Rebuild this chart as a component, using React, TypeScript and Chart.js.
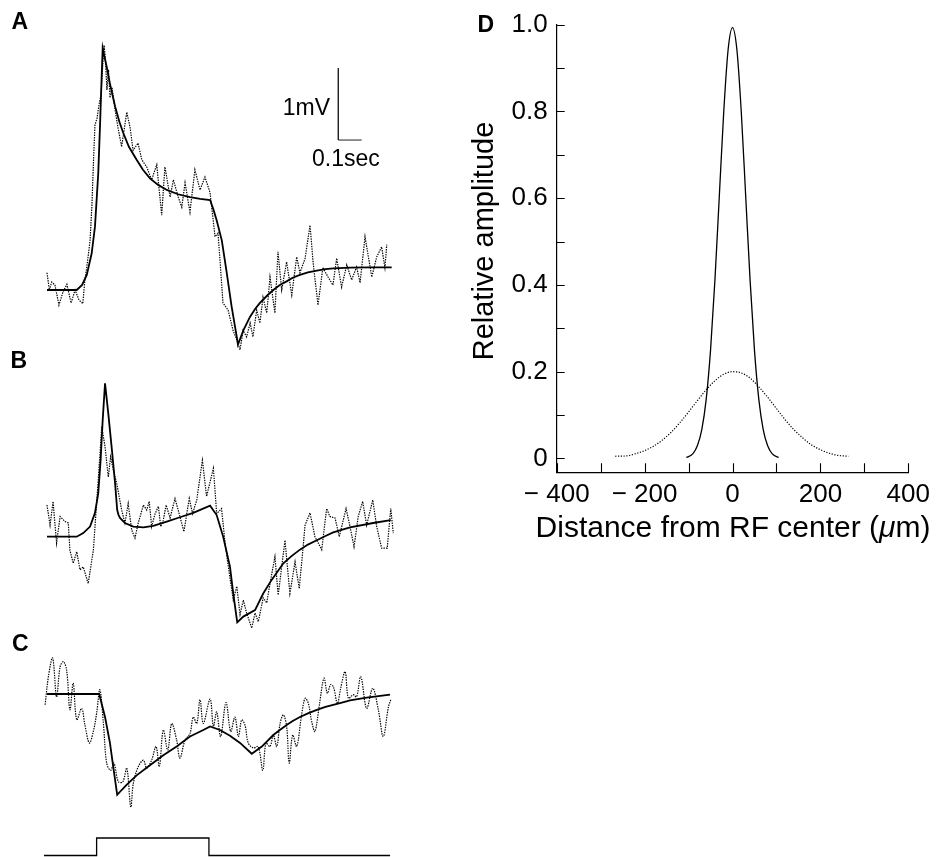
import React, { useEffect, useRef } from "react";
import { Chart, registerables } from "chart.js";

Chart.register(...registerables);

const FONT = "'Liberation Sans', Arial, Helvetica, sans-serif";

// ---------- Panels A-C: time (ms) vs membrane potential (mV, relative to baseline) ----------
const FIT_A_T = [0, 127, 150, 170, 191, 205, 219, 227, 234, 238, 245, 255, 270, 291, 310, 326, 350, 383, 410, 440, 475, 512, 560, 611, 655, 697, 711, 725, 747, 768, 789, 811, 816, 839, 868, 890, 910, 940, 967, 995, 1024, 1050, 1081, 1115, 1153, 1190, 1224, 1295, 1380, 1473];
const FIT_A_V = [0, 0, 0.07, 0.21, 0.51, 0.88, 1.62, 2.32, 3.01, 3.36, 3.25, 3.1, 2.85, 2.55, 2.33, 2.18, 1.99, 1.81, 1.67, 1.55, 1.46, 1.39, 1.33, 1.29, 1.265, 1.25, 1.12, 0.97, 0.69, 0.24, -0.23, -0.65, -0.76, -0.56, -0.37, -0.26, -0.18, -0.08, 0, 0.07, 0.12, 0.17, 0.21, 0.245, 0.27, 0.29, 0.3, 0.31, 0.315, 0.315];
const RAW_A_T = [0, 10, 20, 34, 51, 68, 85, 103, 120, 137, 153, 162, 173, 184, 192, 199, 205, 214, 222, 231, 237, 244, 250, 256, 263, 269, 278, 291, 303, 319, 341, 355, 368, 389, 405, 426, 447, 469, 490, 504, 526, 540, 561, 576, 590, 611, 632, 654, 675, 697, 718, 731, 752, 774, 795, 811, 825, 838, 853, 868, 880, 896, 910, 923, 939, 953, 974, 987, 1003, 1024, 1046, 1067, 1081, 1103, 1124, 1137, 1158, 1179, 1201, 1222, 1238, 1259, 1281, 1302, 1323, 1338, 1359, 1388, 1409, 1430, 1444, 1452];
const RAW_A_V = [0.24, 0, 0.11, 0.07, -0.21, -0.03, 0.08, -0.18, 0, -0.14, -0.19, 0.14, 0.39, 0.69, 1.18, 1.81, 2.29, 2.39, 2.57, 2.71, 3.06, 3.4, 3.19, 2.78, 3.06, 2.67, 2.81, 2.5, 2.26, 1.99, 2.47, 2.26, 1.94, 2.04, 1.81, 1.71, 1.53, 1.74, 1.04, 1.71, 1.29, 1.53, 1.29, 1.15, 1.49, 1.08, 1.67, 1.39, 1.57, 1.35, 0.74, 0.79, -0.18, -0.28, -0.56, -0.69, -0.83, -0.56, -0.65, -0.46, -0.65, -0.28, -0.46, -0.1, -0.32, 0.18, -0.32, 0.53, 0, 0.39, -0.07, 0.46, 0.24, 0.44, 0.9, 0.39, -0.21, 0.31, 0.18, 0.07, 0.44, 0.04, 0.35, 0.14, 0.32, 0.1, 0.74, 0.18, 0.46, 0.6, 0.31, 0.63];

const FIT_B_T = [0, 127, 155, 184, 205, 219, 229, 238, 248, 262, 276, 291, 300, 306, 312, 333, 369, 412, 454, 512, 568, 625, 697, 725, 753, 782, 796, 813, 839, 889, 924, 960, 1010, 1045, 1081, 1115, 1153, 1190, 1223, 1295, 1394, 1469];
const FIT_B_V = [0, 0, 0.05, 0.14, 0.33, 0.6, 1.06, 1.62, 2.13, 1.71, 1.25, 0.74, 0.37, 0.3, 0.26, 0.19, 0.14, 0.13, 0.15, 0.21, 0.27, 0.33, 0.43, 0.3, 0, -0.42, -0.79, -1.19, -1.11, -1.02, -0.79, -0.6, -0.37, -0.27, -0.18, -0.11, -0.05, 0.01, 0.06, 0.13, 0.19, 0.23];
const RAW_B_T = [0, 13, 26, 41, 56, 77, 91, 98, 112, 127, 141, 155, 176, 198, 219, 234, 248, 262, 272, 283, 298, 319, 333, 347, 362, 376, 390, 412, 426, 437, 447, 462, 476, 486, 497, 509, 526, 547, 568, 585, 608, 622, 640, 664, 682, 711, 725, 746, 761, 775, 796, 811, 825, 839, 853, 875, 889, 903, 924, 939, 953, 974, 988, 1017, 1038, 1060, 1078, 1103, 1124, 1145, 1174, 1195, 1209, 1231, 1249, 1278, 1295, 1312, 1330, 1349, 1366, 1392, 1409, 1430, 1454, 1469, 1480];
const RAW_B_V = [0.44, 0.16, 0.49, -0.09, 0.28, 0.21, 0.19, -0.19, -0.37, -0.21, -0.46, -0.42, -0.65, -0.19, 0.79, 1.53, 1.25, 0.83, 1.11, 0.93, 0.74, 0.37, 0.19, 0.46, 0.09, -0.02, 0.19, 0.44, 0.37, 0.49, 0.14, 0.32, 0.42, 0.14, 0.23, 0.44, 0.26, 0.53, 0.28, 0.07, 0.53, 0.32, 0.51, 1.06, 0.56, 0.95, 0.32, 0.39, -0.09, -0.42, -0.88, -0.69, -1.08, -0.88, -1.06, -1.27, -1.06, -1.18, -0.85, -0.92, -0.65, -0.28, -0.81, -0.05, -0.79, -0.35, -0.72, 0.16, 0.33, 0, -0.18, 0.39, 0.28, 0.26, 0, 0.39, 0.14, -0.14, 0.28, 0.49, 0.16, 0.51, 0.14, -0.16, -0.16, 0.39, 0.05];

const FIT_C_T = [0, 223, 248, 269, 283, 300, 320, 341, 383, 440, 497, 554, 611, 668, 697, 739, 782, 825, 875, 918, 967, 995, 1024, 1050, 1081, 1115, 1153, 1190, 1223, 1260, 1295, 1366, 1466];
const FIT_C_V = [0, 0, -0.32, -0.68, -1.01, -1.4, -1.33, -1.26, -1.13, -0.99, -0.85, -0.73, -0.59, -0.5, -0.45, -0.5, -0.58, -0.68, -0.83, -0.73, -0.57, -0.5, -0.43, -0.375, -0.32, -0.27, -0.22, -0.18, -0.15, -0.12, -0.09, -0.05, -0.01];
const RAW_C_T = [-8, 6, 24, 41, 56, 70, 84, 98, 112, 127, 148, 162, 181, 198, 212, 226, 241, 255, 272, 286, 305, 324, 341, 358, 369, 390, 412, 426, 447, 466, 480, 497, 516, 533, 554, 568, 590, 611, 625, 640, 654, 668, 697, 711, 725, 742, 765, 785, 803, 818, 832, 846, 860, 882, 903, 922, 936, 953, 967, 982, 996, 1010, 1024, 1035, 1050, 1067, 1088, 1103, 1117, 1131, 1145, 1164, 1184, 1198, 1212, 1224, 1241, 1255, 1274, 1288, 1309, 1323, 1341, 1366, 1392, 1416, 1437, 1459, 1469];
const RAW_C_V = [-0.15, 0.24, 0.5, -0.04, 0.38, 0.45, 0.33, -0.22, 0.15, -0.36, -0.2, -0.43, -0.68, -0.52, -0.27, 0.06, -0.41, -0.96, -1.06, -0.96, -1.22, -1.22, -1.03, -1.57, -1.24, -1.01, -0.92, -1.03, -0.92, -0.73, -1.01, -0.5, -0.78, -0.41, -0.64, -0.89, -0.64, -0.55, -0.32, -0.41, -0.08, -0.41, -0.07, -0.45, -0.25, -0.59, -0.12, -0.52, -0.32, -0.59, -0.36, -0.43, -0.68, -0.75, -0.73, -1.06, -0.68, -0.73, -0.57, -0.73, -0.41, -0.29, -0.45, -0.96, -0.57, -0.73, -0.29, -0.06, -0.13, -0.38, -0.52, -0.15, 0.22, 0.01, 0.13, 0.1, -0.13, 0.08, 0.31, -0.06, -0.01, -0.04, 0.24, -0.2, 0.08, -0.22, -0.59, -0.18, -0.08];

// stimulus monitor (off = 0, on = 1)
const STIM_T = [-13, 212, 212, 692, 692, 1466];
const STIM_V = [0, 0, 1, 1, 0, 0];

// scale bar: 1 mV vertical, 0.1 s (100 ms) horizontal
const SCALE_BAR_T = [1245, 1245, 1345];
const SCALE_BAR_V = [3.083, 2.083, 2.083];

// ---------- Panel D: relative amplitude vs distance from RF center (um) ----------
const CENTER_X = [-105, -90, -80, -70, -60, -50, -40, -30, -20, -10, 0, 10, 20, 30, 40, 50, 60, 70, 80, 90, 105];
const CENTER_Y = [0.002, 0.011, 0.029, 0.066, 0.135, 0.249, 0.411, 0.605, 0.798, 0.942, 0.993, 0.942, 0.798, 0.605, 0.411, 0.249, 0.135, 0.066, 0.029, 0.011, 0.002];
const SURROUND_X = [-267, -240, -220, -200, -180, -160, -140, -120, -100, -80, -60, -40, -20, 0, 20, 40, 60, 80, 100, 120, 140, 160, 180, 200, 220, 240, 264];
const SURROUND_Y = [0.005, 0.006, 0.011, 0.018, 0.028, 0.042, 0.06, 0.082, 0.107, 0.133, 0.158, 0.179, 0.194, 0.2, 0.197, 0.185, 0.165, 0.141, 0.115, 0.089, 0.066, 0.047, 0.031, 0.02, 0.012, 0.007, 0.005];

const D_Y_TICKS = [0, 0.1, 0.2, 0.3, 0.4, 0.5, 0.6, 0.7, 0.8, 0.9, 1.0];
const D_Y_LABELS = ["0", "", "0.2", "", "0.4", "", "0.6", "", "0.8", "", "1.0"];
const D_X_TICKS = [-400, -300, -200, -100, 0, 100, 200, 300, 400];
const D_X_LABELS = ["\u2212 400", "", "\u2212 200", "", "0", "", "200", "", "400"];

const pts = (xs: number[], ys: number[]) => xs.map((x, i) => ({ x, y: ys[i] }));

const rawStyle = {
  borderColor: "#000",
  borderWidth: 1.2,
  borderDash: [1.4, 1.1],
  pointRadius: 0,
};
const fitStyle = {
  borderColor: "#000",
  borderWidth: 1.8,
  pointRadius: 0,
  tension: 0,
};

const innerTicks = {
  id: "innerTicks",
  afterDraw(chart: any) {
    const { ctx, chartArea } = chart;
    const x = chart.scales.x;
    const y = chart.scales.y;
    ctx.save();
    ctx.strokeStyle = "#000";
    ctx.lineWidth = 1.1;
    ctx.beginPath();
    y.ticks.forEach((t: any) => {
      const py = Math.round(y.getPixelForValue(t.value)) + 0.5;
      ctx.moveTo(chartArea.left, py);
      ctx.lineTo(chartArea.left + 8, py);
    });
    x.ticks.forEach((t: any) => {
      const px = Math.round(x.getPixelForValue(t.value)) + 0.5;
      ctx.moveTo(px, chartArea.bottom);
      ctx.lineTo(px, chartArea.bottom - 9);
    });
    ctx.stroke();
    ctx.restore();
  },
};

export default function App() {
  const leftRef = useRef<HTMLCanvasElement>(null);
  const rightRef = useRef<HTMLCanvasElement>(null);

  useEffect(() => {
    const left = new Chart(leftRef.current!, {
      type: "line",
      data: {
        datasets: [
          { ...rawStyle, data: pts(RAW_A_T, RAW_A_V), yAxisID: "yA" },
          { ...fitStyle, data: pts(FIT_A_T, FIT_A_V), yAxisID: "yA" },
          { ...rawStyle, data: pts(RAW_B_T, RAW_B_V), yAxisID: "yB" },
          { ...fitStyle, data: pts(FIT_B_T, FIT_B_V), yAxisID: "yB" },
          { ...rawStyle, data: pts(RAW_C_T, RAW_C_V), yAxisID: "yC", tension: 0.35 },
          { ...fitStyle, data: pts(FIT_C_T, FIT_C_V), yAxisID: "yC" },
          { data: pts(SCALE_BAR_T, SCALE_BAR_V), yAxisID: "yA", borderColor: "#222", borderWidth: 1, pointRadius: 0 },
          { data: pts(STIM_T, STIM_V), yAxisID: "yS", borderColor: "#000", borderWidth: 1.3, pointRadius: 0 },
        ] as any,
      },
      options: {
        animation: false,
        responsive: false,
        events: [],
        layout: { padding: 0 },
        plugins: { legend: { display: false }, tooltip: { enabled: false } },
        scales: {
          x: { type: "linear", display: false, min: -200.85, max: 1594 },
          yA: { type: "linear", display: false, min: -7.875, max: 4.028 },
          yB: { type: "linear", display: false, min: -4.449, max: 7.454 },
          yC: { type: "linear", display: false, min: -2.264, max: 9.639 },
          yS: { type: "linear", display: false, min: -0.0857, max: 48.886 },
        },
      } as any,
    });

    const right = new Chart(rightRef.current!, {
      type: "line",
      data: {
        datasets: [
          { data: pts(CENTER_X, CENTER_Y), borderColor: "#000", borderWidth: 1.3, pointRadius: 0, cubicInterpolationMode: "monotone" },
          { data: pts(SURROUND_X, SURROUND_Y), borderColor: "#000", borderWidth: 1.2, borderDash: [1.2, 1.6], pointRadius: 0, cubicInterpolationMode: "monotone" },
        ] as any,
      },
      options: {
        animation: false,
        responsive: false,
        events: [],
        layout: { padding: { top: 23.3, right: 23.7, left: 0, bottom: 0 } },
        plugins: { legend: { display: false }, tooltip: { enabled: false } },
        scales: {
          x: {
            type: "linear",
            position: "bottom",
            min: -400,
            max: 400,
            afterBuildTicks: (a: any) => {
              a.ticks = D_X_TICKS.map((v) => ({ value: v }));
            },
            afterFit: (s: any) => {
              s.height = 71.7;
            },
            grid: { display: false, drawTicks: false },
            border: { display: true, color: "#000", width: 1.2 },
            ticks: {
              autoSkip: false,
              maxRotation: 0,
              padding: 7,
              color: "#000",
              font: { family: FONT, size: 26 },
              callback: (_v: any, i: number) => D_X_LABELS[i],
            },
          },
          y: {
            type: "linear",
            min: -0.032,
            max: 1.0,
            afterBuildTicks: (a: any) => {
              a.ticks = D_Y_TICKS.map((v) => ({ value: v }));
            },
            afterFit: (s: any) => {
              s.width = 86.7;
            },
            grid: { display: false, drawTicks: false },
            border: { display: true, color: "#000", width: 1.2 },
            ticks: {
              autoSkip: false,
              padding: 9,
              color: "#000",
              font: { family: FONT, size: 26 },
              callback: (_v: any, i: number) => D_Y_LABELS[i],
            },
          },
        },
      } as any,
      plugins: [innerTicks],
    });

    return () => {
      left.destroy();
      right.destroy();
    };
  }, []);

  const label = (text: string, left: number, top: number, size: number, bold = false, extra: any = {}) => (
    <div
      style={{
        position: "absolute",
        left,
        top,
        fontSize: size,
        lineHeight: `${size}px`,
        fontWeight: bold ? 700 : 400,
        whiteSpace: "nowrap",
        ...extra,
      }}
    >
      {text}
    </div>
  );

  return (
    <div
      style={{
        position: "absolute",
        left: 0,
        top: 0,
        width: 937,
        height: 857,
        background: "#fff",
        color: "#000",
        fontFamily: FONT,
        overflow: "hidden",
      }}
    >
      <canvas ref={leftRef} width={420} height={857} style={{ position: "absolute", left: 0, top: 0 }} />
      <canvas ref={rightRef} width={467} height={544} style={{ position: "absolute", left: 470, top: 0 }} />
      {label("A", 11.5, 10.3, 23, true)}
      {label("B", 10.5, 348.7, 23, true)}
      {label("C", 12, 632, 23, true)}
      {label("D", 477.5, 13, 23, true)}
      {label("1mV", 250, 95.8, 23, false, { width: 80, textAlign: "right" })}
      {label("0.1sec", 312, 146.8, 23)}
      <div
        style={{
          position: "absolute",
          left: 483,
          top: 241,
          fontSize: 29,
          lineHeight: "29px",
          whiteSpace: "nowrap",
          transform: "translate(-50%, -50%) rotate(-90deg)",
        }}
      >
        Relative amplitude
      </div>
      <div
        style={{
          position: "absolute",
          left: 533,
          top: 512,
          width: 400,
          textAlign: "center",
          fontSize: 30,
          lineHeight: "30px",
          whiteSpace: "nowrap",
        }}
      >
        Distance from RF center (<i>{"\u03bc"}</i>m)
      </div>
    </div>
  );
}
